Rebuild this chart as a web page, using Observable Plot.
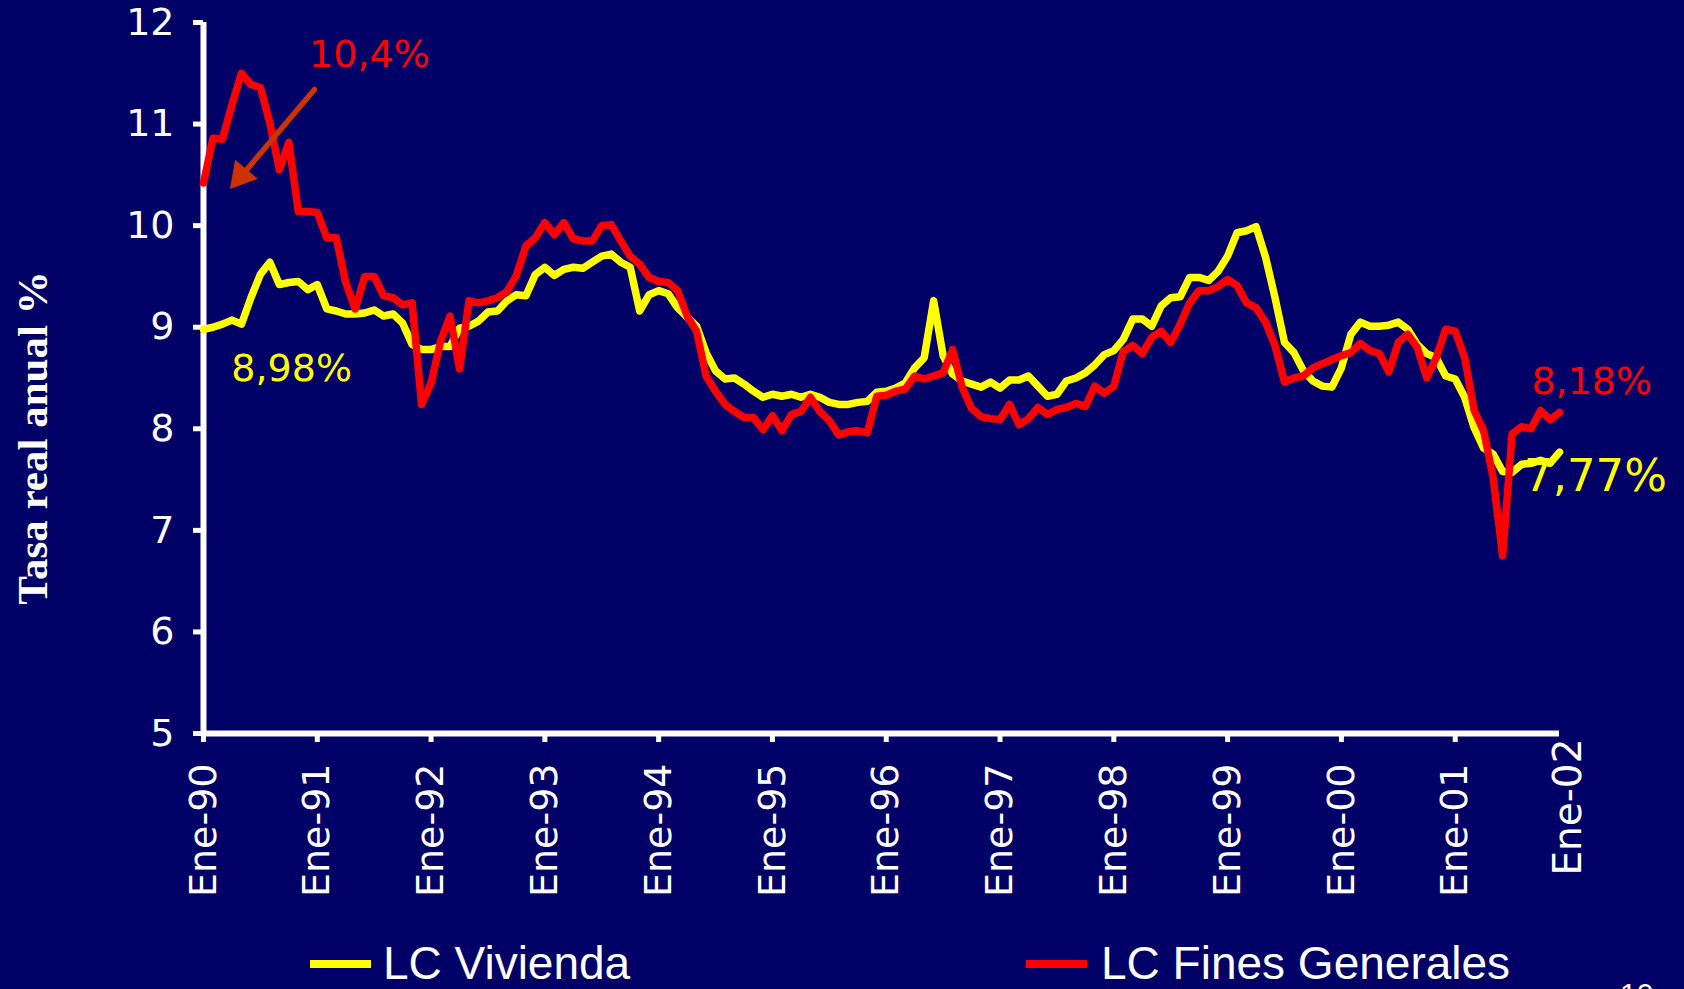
<!DOCTYPE html>
<html><head><meta charset="utf-8">
<script src="https://cdn.jsdelivr.net/npm/d3@7"></script>
<script src="https://cdn.jsdelivr.net/npm/@observablehq/plot@0.6"></script>
<style>
html,body{margin:0;padding:0;background:#000066;width:1684px;height:989px;overflow:hidden;}
#chart{position:absolute;left:0;top:0;}
.leg{position:absolute;font-family:"Liberation Sans",Arial,sans-serif;font-size:46px;line-height:38px;color:#fff;white-space:nowrap;}
.sw{position:absolute;height:8px;}
.pg{position:absolute;font-family:"Liberation Sans",Arial,sans-serif;font-size:30px;line-height:30px;color:#fff;}
</style></head><body>
<div id="chart"></div>
<div id="legend"></div>
<script>
// Monthly series, Ene-90 .. Dic-01 (144 months)
const vivienda = [
 8.98,9.00,9.03,9.07,9.03,9.29,9.52,9.64,9.42,9.44,9.45,9.37,
 9.42,9.18,9.16,9.13,9.13,9.14,9.17,9.11,9.13,9.04,8.83,8.78,
 8.78,8.81,8.81,8.99,9.01,9.06,9.15,9.16,9.26,9.32,9.31,9.52,
 9.59,9.51,9.57,9.59,9.58,9.64,9.70,9.72,9.64,9.59,9.16,9.32,
 9.36,9.33,9.19,9.10,9.01,8.75,8.57,8.49,8.50,8.44,8.37,8.31,
 8.34,8.32,8.34,8.31,8.34,8.31,8.26,8.24,8.24,8.26,8.27,8.36,
 8.37,8.40,8.45,8.60,8.70,9.26,8.72,8.54,8.47,8.44,8.41,8.46,
 8.40,8.48,8.48,8.52,8.42,8.32,8.34,8.47,8.50,8.55,8.63,8.73,
 8.77,8.88,9.08,9.08,9.01,9.21,9.29,9.30,9.49,9.49,9.46,9.55,
 9.70,9.93,9.95,9.99,9.69,9.29,8.85,8.75,8.57,8.47,8.42,8.41,
 8.60,8.93,9.05,9.01,9.01,9.02,9.05,8.98,8.83,8.74,8.70,8.52,
 8.49,8.31,8.01,7.81,7.75,7.58,7.57,7.65,7.66,7.69,7.66,7.77
];
const fines = [
 10.42,10.86,10.85,11.19,11.50,11.39,11.36,11.01,10.55,10.82,10.14,10.14,
 10.13,9.88,9.88,9.44,9.18,9.50,9.50,9.31,9.29,9.22,9.24,8.24,
 8.45,8.86,9.11,8.59,9.26,9.24,9.26,9.29,9.35,9.51,9.80,9.88,
 10.03,9.91,10.03,9.87,9.85,9.85,10.00,10.01,9.85,9.70,9.62,9.49,
 9.45,9.44,9.36,9.11,8.96,8.52,8.37,8.24,8.17,8.11,8.11,7.99,
 8.13,7.98,8.14,8.17,8.31,8.17,8.08,7.94,7.97,7.98,7.96,8.32,
 8.33,8.37,8.39,8.52,8.49,8.52,8.55,8.78,8.41,8.20,8.12,8.10,
 8.09,8.24,8.04,8.10,8.21,8.14,8.19,8.21,8.25,8.22,8.42,8.35,
 8.42,8.76,8.82,8.74,8.90,8.96,8.85,9.03,9.24,9.36,9.36,9.40,
 9.47,9.41,9.24,9.19,9.05,8.82,8.46,8.50,8.52,8.60,8.64,8.68,
 8.72,8.75,8.84,8.77,8.74,8.56,8.85,8.93,8.80,8.50,8.70,8.98,
 8.96,8.70,8.18,7.98,7.52,6.75,7.95,8.02,8.00,8.18,8.09,8.16
];
const tickLabels = ["Ene-90","Ene-91","Ene-92","Ene-93","Ene-94","Ene-95","Ene-96","Ene-97","Ene-98","Ene-99","Ene-00","Ene-01","Ene-02"];
const yTicks = [5,6,7,8,9,10,11,12];
const seriesNames = ["LC Vivienda","LC Fines Generales"];
const seriesColors = ["#ffff00","#ff0000"];
// annotations (data space: month index, rate)
const notes = [
  {text:"10,4%", x:17.5, y:11.68, color:"#ff0000", size:38},
  {text:"8,98%", x:9.3, y:8.59, color:"#ffff00", size:38},
  {text:"8,18%", x:146.4, y:8.46, color:"#ff0000", size:38},
  {text:"7,77%", x:146.8, y:7.53, color:"#ffff00", size:45}
];
const arrowNote = [{x1:11.7, y1:11.34, x2:4.1, y2:10.5}];
const arrowHead = [{x:3.95, y:10.49, angle:220}];

const viv = vivienda.map((v,i)=>({i, v}));
const fin = fines.map((v,i)=>({i, v}));
const lastIdx = vivienda.length - 1;
const xTickPos = tickLabels.slice(0, -1).map((d,k)=>k*12);
const endLabel = [{x:(tickLabels.length-1)*12, y:yTicks[0], text:tickLabels[tickLabels.length-1]}];

const chart = Plot.plot({
  width:1684, height:940,
  marginLeft:203, marginRight:125, marginTop:22, marginBottom:207,
  style:{background:"#000066", color:"#fff", fontFamily:"DejaVu Sans, sans-serif", overflow:"visible"},
  x:{domain:[0,lastIdx], axis:null},
  y:{domain:[yTicks[0], yTicks[yTicks.length-1]], axis:null},
  marks:[
    Plot.axisY(yTicks, {anchor:"left", tickSize:10, tickPadding:19, fontSize:38, stroke:"#fff", strokeWidth:5, fill:"#fff", tickFormat:d=>String(d)}),
    Plot.axisX(xTickPos, {anchor:"bottom", tickSize:9, tickPadding:21, tickRotate:-90, fontSize:38, stroke:"#fff", strokeWidth:5, fill:"#fff", tickFormat:d=>tickLabels[d/12]}),
    Plot.text(endLabel, {x:"x", y:"y", text:"text", rotate:-90, textAnchor:"end", dy:5, fontSize:39, fill:"#fff"}),
    Plot.ruleX([0], {stroke:"#fff", strokeWidth:6}),
    Plot.ruleY([yTicks[0]], {stroke:"#fff", strokeWidth:6}),
    Plot.line(viv, {x:"i", y:"v", stroke:seriesColors[0], strokeWidth:7.5}),
    Plot.line(fin, {x:"i", y:"v", stroke:seriesColors[1], strokeWidth:7.5}),
    Plot.arrow(arrowNote, {x1:"x1", y1:"y1", x2:"x2", y2:"y2", stroke:"#cc3300", strokeWidth:5.5, headLength:0}),
    Plot.dot(arrowHead, {x:"x", y:"y", symbol:"triangle", r:11, rotate:"angle", fill:"#cc3300", stroke:"none"}),
    Plot.text(notes, {x:"x", y:"y", text:"text", fill:"color", fontSize:"size"}),
    Plot.text(["Tasa real anual %"], {frameAnchor:"left", textAnchor:"middle", dx:-170, dy:60, rotate:-90, fontFamily:"Liberation Serif, serif", fontWeight:"bold", fontSize:43, fill:"#fff"})
  ]
});
document.getElementById("chart").appendChild(chart);

const leg = document.getElementById("legend");
const legPos = [{sw:310, tx:383},{sw:1026, tx:1101}];
seriesNames.forEach((name,k)=>{
  const s = document.createElement("div");
  s.className = "sw";
  s.style.left = legPos[k].sw + "px"; s.style.top = "960px"; s.style.width = "61px";
  s.style.background = seriesColors[k];
  leg.appendChild(s);
  const t = document.createElement("div");
  t.className = "leg";
  t.style.left = legPos[k].tx + "px"; t.style.top = "944px";
  t.textContent = name;
  leg.appendChild(t);
});
const pg = document.createElement("div");
pg.className = "pg"; pg.style.left = "1620px"; pg.style.top = "979px"; pg.textContent = "10";
leg.appendChild(pg);
</script>
</body></html>
